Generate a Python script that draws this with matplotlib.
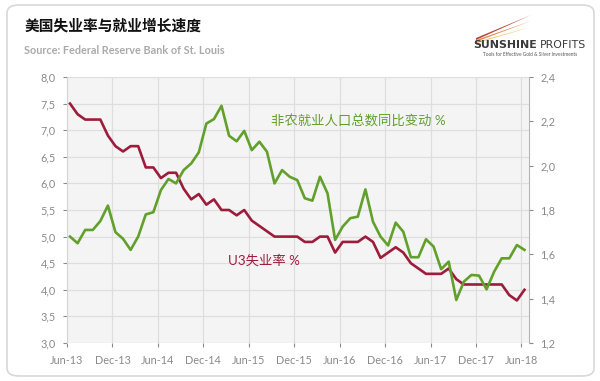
import numpy as np
import matplotlib
matplotlib.use('Agg')
import matplotlib.pyplot as plt
from matplotlib.patches import FancyBboxPatch, Polygon

plt.rcParams['font.family'] = ['Lato', 'Noto Sans CJK SC', 'DejaVu Sans']

# Datos mensuales Jun-13 .. Jun-18
tick_labels = ['Jun-13', 'Dec-13', 'Jun-14', 'Dec-14', 'Jun-15', 'Dec-15',
               'Jun-16', 'Dec-16', 'Jun-17', 'Dec-17', 'Jun-18']

# U3 unemployment rate (left axis, %)
unemployment = [7.5, 7.3, 7.2, 7.2, 7.2, 6.9, 6.7, 6.6, 6.7, 6.7,
                6.3, 6.3, 6.1, 6.2, 6.2, 5.9, 5.7, 5.8, 5.6, 5.7,
                5.5, 5.5, 5.4, 5.5, 5.3, 5.2, 5.1, 5.0, 5.0, 5.0,
                5.0, 4.9, 4.9, 5.0, 5.0, 4.7, 4.9, 4.9, 4.9, 5.0,
                4.9, 4.6, 4.7, 4.8, 4.7, 4.5, 4.4, 4.3, 4.3, 4.3,
                4.4, 4.2, 4.1, 4.1, 4.1, 4.1, 4.1, 4.1, 3.9, 3.8,
                4.0]

# Nonfarm payrolls, YoY change (right axis, %)
payrolls = [1.68, 1.65, 1.71, 1.71, 1.75, 1.82, 1.70, 1.67, 1.62, 1.68,
            1.78, 1.79, 1.89, 1.94, 1.92, 1.98, 2.01, 2.06, 2.19, 2.21,
            2.27, 2.135, 2.11, 2.157, 2.07, 2.108, 2.063, 1.92, 1.98, 1.95,
            1.935, 1.853, 1.842, 1.95, 1.875, 1.665, 1.725, 1.763, 1.77, 1.893,
            1.747, 1.68, 1.64, 1.743, 1.702, 1.587, 1.587, 1.668, 1.635, 1.533,
            1.567, 1.394, 1.477, 1.507, 1.504, 1.442, 1.522, 1.582, 1.582, 1.642,
            1.62]

red = '#9e1c3b'
green = '#62a02c'
tick_col = '#8a8a8a'

x = np.arange(len(unemployment))

fig = plt.figure(figsize=(6, 3.81), dpi=100)

# marco redondeado
frame = FancyBboxPatch((7 / 600, 5 / 381), 587 / 600, 371 / 381,
                       boxstyle='round,pad=0,rounding_size=0.02',
                       transform=fig.transFigure, facecolor='white',
                       edgecolor='#d8d8d8', linewidth=1.2, zorder=0)
fig.patches.append(frame)

ax = fig.add_axes([67 / 600, 1 - 343 / 381, 462 / 600, 266 / 381])
ax2 = ax.twinx()

ax.set_facecolor('#f4f4f4')
ax.set_zorder(1)
ax2.set_zorder(2)
ax2.patch.set_visible(False)

ax.plot(x, unemployment, color=red, lw=1.9, zorder=3)
ax2.plot(x, payrolls, color=green, lw=1.9, zorder=3)

ax.set_xlim(-0.4, 60.6)
ax.set_ylim(3.0, 8.0)
ax2.set_ylim(1.2, 2.4)

xt = np.arange(0, 61, 6) - 0.4
ax.set_xticks(xt)
ax.set_xticklabels(tick_labels)

lt = np.arange(3.0, 8.01, 0.5)
ax.set_yticks(lt)
ax.set_yticklabels([f'{v:.1f}'.replace('.', ',') for v in lt])
rt = np.arange(1.2, 2.41, 0.2)
ax2.set_yticks(rt)
ax2.set_yticklabels([f'{v:.1f}'.replace('.', ',') for v in rt])

ax.grid(True, color='#dedede', lw=0.9)
ax.set_axisbelow(True)

for a in (ax, ax2):
    for s in a.spines.values():
        s.set_visible(False)
    a.tick_params(colors=tick_col, labelsize=7.8, length=3, width=0.8)
ax2.spines['right'].set_visible(True)
ax2.spines['right'].set_color('#b5b5b5')
ax.spines['left'].set_visible(True)
ax.spines['left'].set_color('#d5d5d5')
ax.tick_params(axis='x', pad=6)
ax.tick_params(axis='y', pad=5)
ax2.tick_params(axis='y', pad=5)

# etiquetas de series
ax.text(26.6, 7.17, '非农就业人口总数同比变动 %', color=green, fontsize=9.6,
        va='center', ha='left', zorder=5)
ax.text(20.8, 4.55, 'U3失业率 %', color=red, fontsize=9.6,
        va='center', ha='left', zorder=5)

# título y fuente
fig.text(25 / 600, 1 - 26 / 381, '美国失业率与就业增长速度', fontsize=10.6,
         weight='bold', color='#111111', va='center', ha='left',
         family=['Noto Sans CJK SC', 'DejaVu Sans'])
fig.text(24 / 600, 1 - 50 / 381, 'Source: Federal Reserve Bank of St. Louis',
         fontsize=7.8, weight='bold', color='#aaaaaa', va='center', ha='left')

# logo
for (c, y0, y1, w) in [('#b0302a', 38, 15, 2.0), ('#e0803a', 40, 21, 1.8),
                       ('#f2c060', 42, 27, 1.5)]:
    poly = Polygon([[476 / 600, 1 - y0 / 381],
                    [531 / 600, 1 - y1 / 381],
                    [476 / 600, 1 - (y0 + w) / 381]],
                   closed=True, transform=fig.transFigure,
                   facecolor=c, edgecolor='none', alpha=0.9)
    fig.patches.append(poly)
t_sun = fig.text(473 / 600, 1 - 45 / 381, 'SUNSHINE', fontsize=7.9, weight='bold',
                 color='#3a3a3a', va='center', ha='left',
                 family=['DejaVu Sans'])
fig.text(0, 0, 'PROFITS', fontsize=7.9, color='#3a3a3a', va='center',
         ha='left', family=['DejaVu Sans'])
fig.texts[-1].remove()
plt.annotate('PROFITS', xy=(1, 0.5), xycoords=t_sun, xytext=(2.5, 0),
             textcoords='offset points', fontsize=7.9, color='#3a3a3a',
             va='center', ha='left', family=['DejaVu Sans'])
fig.text(530 / 600, 1 - 55 / 381, 'Tools for Effective Gold & Silver Investments',
         fontsize=3.4, color='#555555', va='center', ha='center')

fig.savefig('out.png', dpi=100)
